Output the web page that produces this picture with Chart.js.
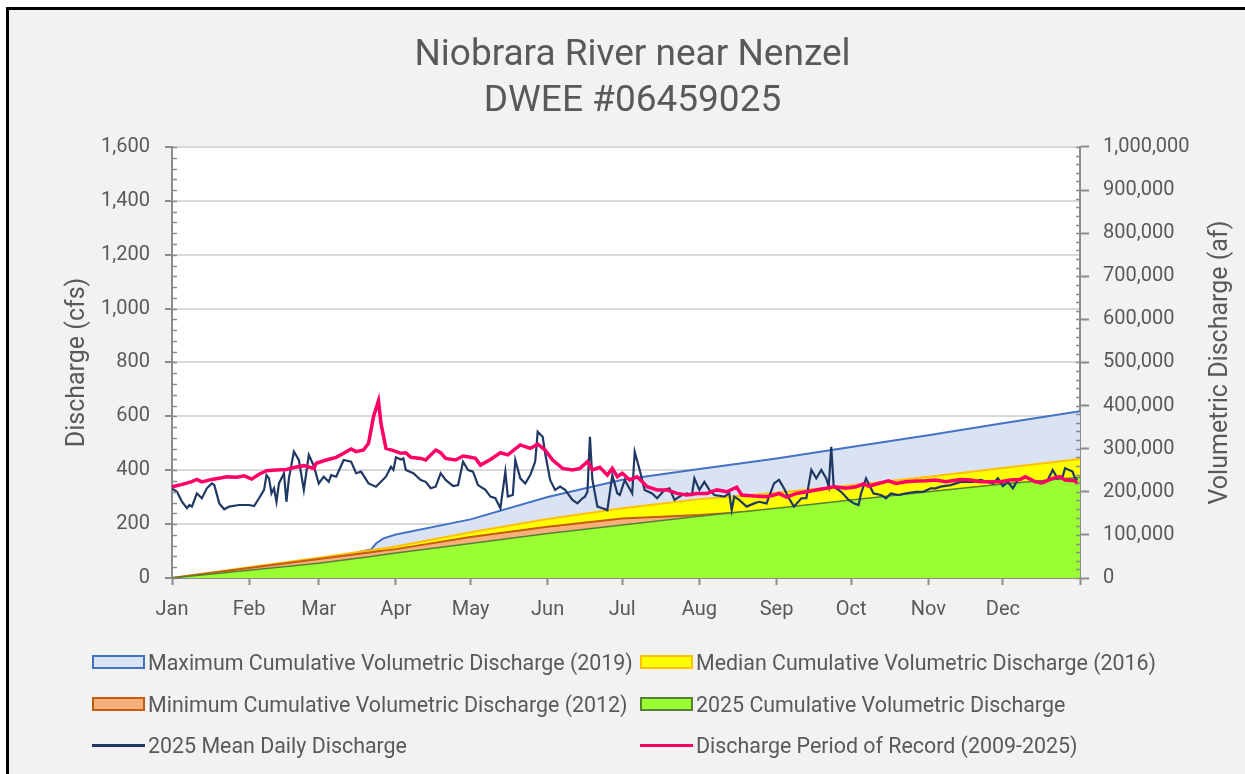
<!DOCTYPE html>
<html><head><meta charset="utf-8">
<script src="https://cdn.jsdelivr.net/npm/chart.js@4"></script>
<style>
html,body{margin:0;padding:0;background:#fff;width:1245px;height:774px;overflow:hidden;font-family:Roboto,sans-serif;}
#frame{position:absolute;left:6px;top:7px;width:1300px;height:800px;border-left:3px solid #000;border-top:3px solid #000;background:#f2f2f2;}
#c{position:absolute;left:0;top:0;}
#legend{position:absolute;left:0;top:0;width:1245px;height:774px;pointer-events:none;}
.li{position:absolute;display:flex;align-items:center;font-size:21.4px;color:#595959;white-space:nowrap;height:30px;}
.box{box-sizing:border-box;width:53px;height:14px;border:2px solid;margin-right:3px;}
.ln{width:53px;height:3px;margin-right:3px;}
</style></head>
<body>
<div id="frame"></div>
<canvas id="c" width="1245" height="774"></canvas>
<div id="legend"></div>
<script>
// ---- data ----
const monthLabels = ['Jan','Feb','Mar','Apr','May','Jun','Jul','Aug','Sep','Oct','Nov','Dec',''];
const monthStartDays = [0,31,59,90,120,151,181,212,243,273,304,334,365];
const leftTicks = [0,200,400,600,800,1000,1200,1400,1600];

// cumulative volumetric discharge (af) at day of year
const cumDays   = [0,31,59,80,82,85,90,120,151,181,212,243,273,304,334,365];
const maxCum2019 = [0,20000,40000,66000,80000,92000,101000,136000,188000,228000,253000,277000,304000,331000,359000,387000];
const medCum2016 = [0,25000,47000,64500,66000,68500,73000,106000,137000,162000,183000,198000,215000,235000,255000,276000];
const minCum2012 = [0,23000,44000,60000,61500,63500,67000,95000,119000,138000,146000,158000,170000,183000,196000,209000];
const cum2025    = [0,18000,34000,50000,51500,54000,58000,80000,103000,123000,143000,162000,181000,200000,218000,234000];

// 2025 mean daily discharge (cfs)
const dailyDays = [0,2,4,6,7,8,10,12,14,16,17,19,21,23,27,31,33,35,37,38,39,40,41,42,43,45,46,47,49,51,53,55,57,59,61,63,64,66,69,72,74,76,79,82,86,88,89,90,92,93,94,97,100,102,104,106,108,110,113,115,117,119,121,123,126,128,130,132,134,135,137,138,140,142,144,146,147,149,150,152,154,156,158,161,163,165,166,167,168,169,171,173,175,177,179,180,182,185,186,188,190,193,195,198,200,202,205,207,209,210,212,214,216,218,222,224,225,226,228,231,234,236,239,242,244,246,248,250,253,255,257,259,261,263,264,265,266,269,272,274,276,277,279,280,282,285,287,289,292,295,299,302,305,307,309,313,317,319,322,325,330,332,334,336,338,340,343,346,349,352,354,356,358,359,362,363,364];
const dailyCfs  = [333,320,283,259,271,265,314,296,333,351,345,277,255,265,271,271,267,296,327,382,370,314,333,283,351,389,283,370,469,438,327,457,416,351,376,357,382,376,438,432,389,395,351,339,376,413,401,448,440,444,401,389,364,357,333,339,389,364,341,345,432,401,395,345,327,302,296,259,395,302,308,438,370,351,382,432,543,524,463,364,327,339,327,290,277,296,302,320,524,364,265,259,252,382,314,308,364,314,469,401,327,314,296,327,333,290,308,314,308,370,327,357,327,308,302,314,252,302,290,265,277,283,277,351,364,333,296,265,296,296,401,370,401,370,339,487,339,320,290,277,271,314,370,351,314,308,296,314,308,314,320,320,333,333,339,345,357,357,357,364,351,370,341,357,333,364,376,364,351,364,401,370,376,407,395,370,364];

// discharge period of record 2009-2025 (cfs)
const porDays = [0,3,8,10,12,16,20,22,26,29,32,35,38,42,46,49,53,57,58,62,66,69,72,74,77,79,81,83,84,86,89,92,94,96,100,102,104,106,108,110,114,117,120,122,124,128,132,135,140,144,147,150,153,157,161,164,167,169,172,175,177,179,181,184,187,191,195,199,203,207,211,215,219,223,227,229,234,239,242,244,247,251,255,259,263,266,271,275,278,280,284,288,291,295,299,303,307,311,317,321,325,329,333,337,341,343,347,350,354,357,359,363,364];
const porCfs  = [339,345,358,366,357,366,372,376,374,379,367,385,398,401,403,410,417,407,426,438,448,463,479,469,475,500,599,658,574,481,473,463,465,448,444,438,457,475,465,444,438,453,448,444,419,440,465,457,494,481,497,475,438,407,401,407,432,401,411,382,407,376,389,364,376,339,327,327,314,308,314,314,327,320,337,308,304,302,308,314,300,314,320,327,333,339,333,339,349,341,351,361,351,357,360,361,364,357,366,364,357,357,357,364,366,376,357,354,370,376,364,361,349];

const seriesLabels = [
  'Maximum Cumulative Volumetric Discharge (2019)',
  'Median Cumulative Volumetric Discharge (2016)',
  'Minimum Cumulative Volumetric Discharge (2012)',
  '2025 Cumulative Volumetric Discharge',
  '2025 Mean Daily Discharge',
  'Discharge Period of Record (2009-2025)'
];
const rightAxisTitle = 'Volumetric Discharge (af)';

// ---- build ----
const pts = (xs, ys) => xs.map((x, i) => ({x, y: ys[i]}));
const AXIS = '#8c8c8c', TXT = '#595959';

const plotBg = {
  id: 'plotBg',
  beforeDraw(chart) {
    const a = chart.chartArea, ctx = chart.ctx;
    ctx.save(); ctx.fillStyle = '#ffffff';
    ctx.fillRect(a.left, a.top, a.right - a.left, a.bottom - a.top);
    ctx.restore();
  }
};
const extras = {
  id: 'extras',
  afterDraw(chart) {
    const ctx = chart.ctx, yl = chart.scales.y, yr = chart.scales.y1;
    ctx.save(); ctx.strokeStyle = AXIS; ctx.lineWidth = 1.5; ctx.beginPath();
    for (let v = 0; v <= 1600; v += 40) {
      const p = Math.round(yl.getPixelForValue(v)) + 0.5;
      ctx.moveTo(yl.right, p); ctx.lineTo(yl.right + 5, p);
    }
    for (let v = 0; v <= 1000000; v += 20000) {
      const p = Math.round(yr.getPixelForValue(v)) + 0.5;
      ctx.moveTo(yr.left - 4, p); ctx.lineTo(yr.left + 1, p);
    }
    ctx.stroke();
    // right axis title, reading bottom to top
    const a = chart.chartArea;
    ctx.translate(1221, (a.top + a.bottom) / 2);
    ctx.rotate(-Math.PI / 2);
    ctx.fillStyle = TXT; ctx.font = '25px Roboto'; ctx.textAlign = 'center'; ctx.textBaseline = 'middle';
    ctx.fillText(rightAxisTitle, 0, 0);
    ctx.restore();
  }
};

const chart = new Chart(document.getElementById('c'), {
  type: 'line',
  data: {
    datasets: [
      {label: seriesLabels[5], data: pts(porDays, porCfs), yAxisID: 'y', borderColor: '#ff0066', borderWidth: 3.5, pointRadius: 0, fill: false, order: 0},
      {label: seriesLabels[4], data: pts(dailyDays, dailyCfs), yAxisID: 'y', borderColor: '#1f3864', borderWidth: 2.2, pointRadius: 0, fill: false, order: 1},
      {label: seriesLabels[3], data: pts(cumDays, cum2025), yAxisID: 'y1', borderColor: '#548235', backgroundColor: '#99ff33', borderWidth: 1.5, pointRadius: 0, fill: 'origin', order: 2},
      {label: seriesLabels[2], data: pts(cumDays, minCum2012), yAxisID: 'y1', borderColor: '#c55a11', backgroundColor: '#f8b07a', borderWidth: 2, pointRadius: 0, fill: 'origin', order: 3},
      {label: seriesLabels[1], data: pts(cumDays, medCum2016), yAxisID: 'y1', borderColor: '#ffc000', backgroundColor: '#ffff00', borderWidth: 2, pointRadius: 0, fill: 'origin', order: 4},
      {label: seriesLabels[0], data: pts(cumDays, maxCum2019), yAxisID: 'y1', borderColor: '#4472c4', backgroundColor: '#dae3f3', borderWidth: 2, pointRadius: 0, fill: 'origin', order: 5}
    ]
  },
  options: {
    responsive: false, animation: false, devicePixelRatio: 1,
    layout: {padding: {left: 20, right: 0, top: 0, bottom: 140}},
    plugins: {
      legend: {display: false}, tooltip: {enabled: false},
      title: {display: true, text: ['Niobrara River near Nenzel', 'DWEE #06459025'], color: TXT,
        font: {family: 'Roboto', size: 37, weight: 'normal', lineHeight: 1.243}, padding: {top: 33, bottom: 22}}
    },
    scales: {
      x: {type: 'linear', min: 0, max: 365,
        afterBuildTicks: s => { s.ticks = monthStartDays.map(v => ({value: v})); },
        afterFit: s => { s.height = 56; },
        ticks: {autoSkip: false, maxRotation: 0, color: TXT, font: {family: 'Roboto', size: 20}, padding: 13,
          callback: v => monthLabels[monthStartDays.indexOf(v)] ?? ''},
        grid: {drawOnChartArea: false, drawTicks: true, tickLength: 7, tickColor: AXIS, tickWidth: 2},
        border: {display: true, color: AXIS, width: 2}
      },
      y: {position: 'left', min: 0, max: 1600,
        afterBuildTicks: s => { s.ticks = leftTicks.map(v => ({value: v})); },
        afterFit: s => { s.width = 152; },
        ticks: {color: TXT, font: {family: 'Roboto', size: 20}, padding: 15, callback: v => v.toLocaleString('en-US')},
        grid: {color: '#d9d9d9', lineWidth: 2, drawTicks: true, tickLength: 7, tickColor: AXIS, tickWidth: 2},
        border: {display: true, color: AXIS, width: 2},
        title: {display: true, text: 'Discharge (cfs)', color: TXT, font: {family: 'Roboto', size: 25}, padding: {top: 43, bottom: 0}}
      },
      y1: {position: 'right', min: 0, max: 1000000,
        ticks: {stepSize: 100000, color: TXT, font: {family: 'Roboto', size: 20}, padding: 14, callback: v => v.toLocaleString('en-US')},
        afterFit: s => { s.width = 165; },
        grid: {drawOnChartArea: false, drawTicks: true, tickLength: 9, tickColor: AXIS, tickWidth: 2},
        border: {display: true, color: AXIS, width: 2},
        title: {display: false}
      }
    }
  },
  plugins: [plotBg, extras]
});

// ---- HTML legend built from the datasets ----
const byLabel = l => chart.data.datasets.find(d => d.label === l);
const colX = [92, 640], rowY = [662, 704, 745];
const leg = document.getElementById('legend');
seriesLabels.forEach((lab, i) => {
  const ds = byLabel(lab);
  const el = document.createElement('div');
  el.className = 'li';
  el.style.left = colX[i % 2] + 'px';
  el.style.top = (rowY[Math.floor(i / 2)] - 15) + 'px';
  const sw = document.createElement('span');
  if (ds.fill) { sw.className = 'box'; sw.style.background = ds.backgroundColor; sw.style.borderColor = ds.borderColor; }
  else { sw.className = 'ln'; sw.style.background = ds.borderColor; }
  el.appendChild(sw);
  el.appendChild(document.createTextNode(ds.label));
  leg.appendChild(el);
});
</script>
</body></html>
